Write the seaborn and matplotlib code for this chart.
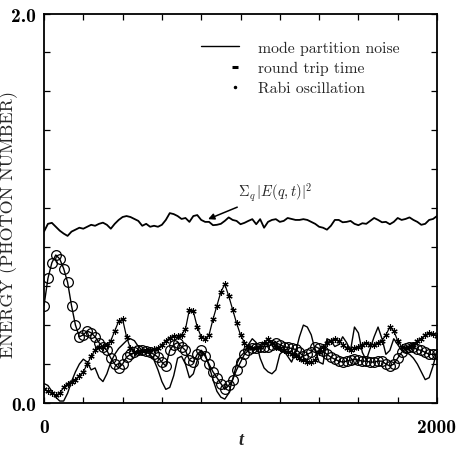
import numpy as np
import pandas as pd
import matplotlib
matplotlib.use("Agg")
import matplotlib.pyplot as plt
from matplotlib.lines import Line2D
from matplotlib.legend_handler import HandlerLine2DCompound
import seaborn as sns

# ---- data: time samples and energies (photon number) ----
t = np.linspace(0, 2000, 101)

total_energy = [
    0.88, 0.92, 0.925, 0.905, 0.885, 0.87, 0.858, 0.88, 0.89, 0.90,
    0.895, 0.905, 0.915, 0.91, 0.92, 0.926, 0.915, 0.895, 0.92, 0.94,
    0.955, 0.96, 0.955, 0.945, 0.935, 0.91, 0.92, 0.905, 0.91, 0.905,
    0.915, 0.94, 0.975, 0.97, 0.96, 0.945, 0.95, 0.93, 0.96, 0.965,
    0.94, 0.93, 0.93, 0.913, 0.915, 0.92, 0.935, 0.953, 0.94, 0.935,
    0.918, 0.925, 0.935, 0.944, 0.918, 0.944, 0.90, 0.93, 0.94, 0.944,
    0.93, 0.935, 0.95, 0.945, 0.94, 0.94, 0.944, 0.94, 0.93, 0.92,
    0.905, 0.90, 0.89, 0.91, 0.94, 0.94, 0.928, 0.93, 0.935, 0.92,
    0.913, 0.923, 0.92, 0.935, 0.95, 0.94, 0.928, 0.93, 0.918, 0.93,
    0.95, 0.94, 0.945, 0.953, 0.94, 0.93, 0.915, 0.92, 0.94, 0.945,
    0.96,
]

mode_partition = [
    0.10, 0.09, 0.06, 0.03, 0.01, 0.01, 0.05, 0.11, 0.16, 0.20,
    0.225, 0.21, 0.17, 0.18, 0.13, 0.11, 0.15, 0.21, 0.25, 0.28,
    0.30, 0.32, 0.33, 0.32, 0.29, 0.27, 0.26, 0.25, 0.22, 0.17,
    0.11, 0.07, 0.08, 0.14, 0.23, 0.24, 0.20, 0.13, 0.15, 0.22,
    0.27, 0.25, 0.19, 0.12, 0.06, 0.03, 0.02, 0.05, 0.12, 0.20,
    0.24, 0.26, 0.30, 0.33, 0.31, 0.23, 0.18, 0.16, 0.15, 0.17,
    0.25, 0.27, 0.24, 0.21, 0.26, 0.34, 0.40, 0.39, 0.35, 0.27,
    0.21, 0.20, 0.33, 0.32, 0.29, 0.30, 0.34, 0.31, 0.27, 0.39,
    0.36, 0.26, 0.22, 0.28, 0.34, 0.39, 0.33, 0.25, 0.27, 0.33,
    0.30, 0.27, 0.26, 0.25, 0.23, 0.20, 0.16, 0.12, 0.13, 0.19,
    0.27,
]

round_trip = [
    0.50, 0.64, 0.72, 0.76, 0.74, 0.69, 0.62, 0.50, 0.40, 0.34,
    0.35, 0.37, 0.36, 0.34, 0.31, 0.29, 0.27, 0.23, 0.20, 0.18,
    0.20, 0.235, 0.25, 0.26, 0.27, 0.27, 0.265, 0.26, 0.25, 0.235,
    0.21, 0.19, 0.27, 0.30, 0.31, 0.29, 0.27, 0.22, 0.21, 0.25,
    0.27, 0.24, 0.20, 0.16, 0.13, 0.10, 0.07, 0.09, 0.12, 0.17,
    0.21, 0.25, 0.27, 0.28, 0.28, 0.285, 0.29, 0.29, 0.30, 0.31,
    0.30, 0.29, 0.285, 0.28, 0.275, 0.26, 0.24, 0.25, 0.26, 0.29,
    0.28, 0.265, 0.25, 0.235, 0.225, 0.215, 0.21, 0.215, 0.22, 0.225,
    0.22, 0.215, 0.215, 0.21, 0.21, 0.215, 0.215, 0.20, 0.19, 0.20,
    0.23, 0.26, 0.28, 0.29, 0.285, 0.275, 0.27, 0.26, 0.25, 0.25,
    0.25,
]

rabi = [
    0.07, 0.06, 0.05, 0.04, 0.05, 0.08, 0.10, 0.11, 0.12, 0.14,
    0.16, 0.20, 0.24, 0.27, 0.29, 0.29, 0.30, 0.32, 0.37, 0.42,
    0.43, 0.34, 0.28, 0.26, 0.26, 0.265, 0.27, 0.27, 0.275, 0.28,
    0.30, 0.32, 0.335, 0.345, 0.345, 0.35, 0.38, 0.48, 0.47, 0.39,
    0.34, 0.33, 0.35, 0.43, 0.50, 0.57, 0.61, 0.55, 0.48, 0.41,
    0.35, 0.31, 0.29, 0.28, 0.28, 0.29, 0.31, 0.33, 0.31, 0.29,
    0.28, 0.27, 0.26, 0.25, 0.24, 0.23, 0.22, 0.21, 0.21, 0.22,
    0.26, 0.29, 0.31, 0.32, 0.33, 0.32, 0.30, 0.28, 0.27, 0.28,
    0.29, 0.30, 0.31, 0.30, 0.30, 0.31, 0.32, 0.35, 0.39, 0.37,
    0.32, 0.29, 0.28, 0.29, 0.30, 0.32, 0.33, 0.35, 0.36, 0.355,
    0.345,
]

legend_labels = ["mode partition noise", "round trip time", "Rabi oscillation"]
xtick_labels = ["0"] + [""] * 9 + ["2000"]
ytick_labels = ["0.0"] + [""] * 9 + ["2.0"]

df = pd.DataFrame({
    "t": t,
    "total": total_energy,
    "mpn": mode_partition,
    "rtt": round_trip,
    "rabi": rabi,
})

# ---- style ----
sns.set_style("ticks")
plt.rcParams["font.family"] = ["cmr10", "DejaVu Serif"]
plt.rcParams["mathtext.fontset"] = "cm"
plt.rcParams["axes.unicode_minus"] = False
plt.rcParams["axes.formatter.use_mathtext"] = True

fig = plt.figure(figsize=(4.62, 4.52), dpi=100)
ax = fig.add_axes([44 / 462, 1 - 404 / 452, 393 / 462, 389.5 / 452])

black = "black"
sns.lineplot(data=df, x="t", y="total", ax=ax, color=black, lw=1.3)
sns.lineplot(data=df, x="t", y="mpn", ax=ax, color=black, lw=1.0)
sns.lineplot(data=df, x="t", y="rtt", ax=ax, color=black, lw=1.0,
             marker="o", markersize=7, mfc="none", mec=black, mew=0.9)
sns.lineplot(data=df, x="t", y="rabi", ax=ax, color=black, lw=0.9,
             marker=(6, 2, 0), markersize=4.5, mec=black, mew=0.8)

ax.set_xlim(0, 2000)
ax.set_ylim(0, 2.0)
ax.set_xticks(np.linspace(0, 2000, 11))
ax.set_xticklabels(xtick_labels)
ax.set_yticks(np.linspace(0, 2.0, 11))
ax.set_yticklabels(ytick_labels)
for lab in ax.get_xticklabels() + ax.get_yticklabels():
    lab.set_family("cmb10")
    lab.set_fontsize(14)
ax.tick_params(axis="both", direction="in", length=4, width=0.9,
               top=True, right=True, colors=black)
ax.tick_params(axis="x", pad=11)
ax.tick_params(axis="y", pad=6)
for sp in ax.spines.values():
    sp.set_linewidth(1.3)
    sp.set_color(black)

ax.set_ylabel("ENERGY (PHOTON NUMBER)", fontsize=13, family="cmr10")
ax.yaxis.set_label_coords(-0.066, 0.462)
ax.set_xlabel("t", fontsize=13, family="Liberation Serif", fontweight="bold",
              style="italic", labelpad=-4)

# annotation for the summed field energy
ax.annotate(r"$\Sigma_q\,|E(q,t)|^2$", xy=(835, 0.944), xytext=(985, 1.085),
            fontsize=10.5, ha="left", va="center",
            arrowprops=dict(arrowstyle="-|>", color=black, lw=1.1,
                            mutation_scale=9, shrinkA=2, shrinkB=0))

# legend: markers sit near the right end of the handle
class _RightMarker(HandlerLine2DCompound):
    def get_xdata(self, legend, xdescent, ydescent, width, height, fontsize):
        xdata = np.array([-xdescent, -xdescent + width])
        return xdata, np.array([-xdescent + 0.88 * width])

h_line = Line2D([], [], color=black, lw=1.0)
h_dash = Line2D([], [], color=black, ls="none", marker="_", markersize=5, mew=2.2)
h_dot = Line2D([], [], color=black, ls="none", marker=".", markersize=3)
leg = ax.legend([h_line, h_dash, h_dot], legend_labels, frameon=False,
                loc="upper left", bbox_to_anchor=(157 / 393, 1 - 27 / 389.5),
                borderaxespad=0, borderpad=0, handlelength=2.45,
                handletextpad=1.2, labelspacing=0.4,
                prop={"family": "cmr10", "size": 11.3},
                handler_map={h_dash: _RightMarker(), h_dot: _RightMarker()})

sns.despine(ax=ax, top=False, right=False)
fig.savefig("out.png", dpi=100)
